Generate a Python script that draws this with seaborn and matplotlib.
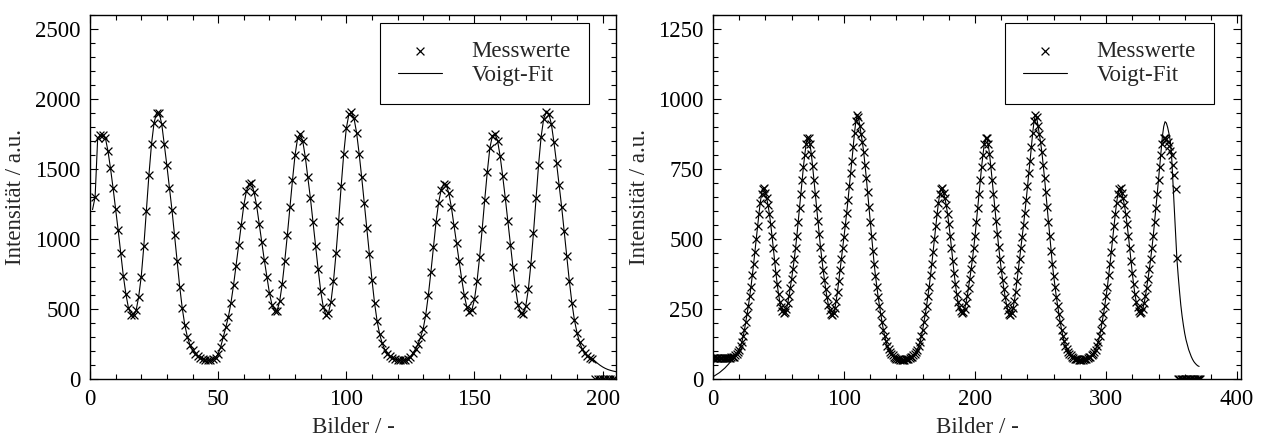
import numpy as np
import matplotlib
matplotlib.use("Agg")
import matplotlib.pyplot as plt
import seaborn as sns
from matplotlib.ticker import MultipleLocator

# ---------------- data ----------------
# left panel: measured intensity per frame, frames start at 2
left_meas_start = 2
left_meas = [
    1300, 1720, 1742, 1745, 1722, 1630, 1505, 1365, 1215, 1062,
    898, 738, 608, 508, 460, 455, 490, 588, 732, 948,
    1198, 1458, 1678, 1830, 1902, 1900, 1820, 1675, 1525, 1365,
    1205, 1025, 840, 660, 505, 385, 300, 245, 205, 180,
    162, 150, 142, 137, 134, 135, 140, 152, 180, 230,
    300, 370, 445, 545, 670, 810, 955, 1100, 1240, 1340,
    1390, 1398, 1335, 1240, 1110, 980, 850, 730, 615, 530,
    485, 488, 555, 680, 845, 1030, 1225, 1420, 1600, 1720,
    1752, 1700, 1585, 1440, 1290, 1120, 950, 785, 630, 515,
    460, 468, 550, 700, 900, 1130, 1380, 1610, 1790, 1890,
    1905, 1862, 1760, 1610, 1440, 1260, 1075, 890, 710, 545,
    415, 320, 255, 210, 180, 162, 150, 142, 137, 134,
    134, 137, 145, 160, 185, 215, 250, 300, 360, 460,
    600, 765, 945, 1120, 1260, 1350, 1395, 1388, 1325, 1225,
    1100, 970, 840, 715, 600, 515, 478, 495, 570, 700,
    870, 1070, 1280, 1480, 1650, 1738, 1750, 1702, 1592, 1450,
    1295, 1130, 960, 800, 650, 530, 468, 462, 520, 640,
    820, 1040, 1290, 1530, 1730, 1860, 1905, 1895, 1820, 1690,
    1545, 1385, 1230, 1055, 875, 700, 545, 420, 330, 262,
    215, 185, 165, 152, 145, 0, 0, 0, 0, 0,
    0, 0, 0, 0,
]

# left panel: Voigt fit, frames start at 1
left_fit_start = 1
left_fit = [
    1210,
    1300, 1720, 1742, 1745, 1722, 1630, 1505, 1365, 1215, 1062,
    898, 738, 608, 508, 460, 455, 490, 588, 732, 948,
    1198, 1458, 1678, 1830, 1902, 1900, 1820, 1675, 1525, 1365,
    1205, 1025, 840, 660, 505, 385, 300, 245, 205, 180,
    162, 150, 142, 137, 134, 135, 140, 152, 180, 230,
    300, 370, 445, 545, 670, 810, 955, 1100, 1240, 1340,
    1390, 1398, 1335, 1240, 1110, 980, 850, 730, 615, 530,
    485, 488, 555, 680, 845, 1030, 1225, 1420, 1600, 1720,
    1752, 1700, 1585, 1440, 1290, 1120, 950, 785, 630, 515,
    460, 468, 550, 700, 900, 1130, 1380, 1610, 1790, 1890,
    1905, 1862, 1760, 1610, 1440, 1260, 1075, 890, 710, 545,
    415, 320, 255, 210, 180, 162, 150, 142, 137, 134,
    134, 137, 145, 160, 185, 215, 250, 300, 360, 460,
    600, 765, 945, 1120, 1260, 1350, 1395, 1388, 1325, 1225,
    1100, 970, 840, 715, 600, 515, 478, 495, 570, 700,
    870, 1070, 1280, 1480, 1650, 1738, 1750, 1702, 1592, 1450,
    1295, 1130, 960, 800, 650, 530, 468, 462, 520, 640,
    820, 1040, 1290, 1530, 1730, 1860, 1905, 1895, 1820, 1690,
    1545, 1385, 1230, 1055, 875, 700, 545, 420, 330, 262,
    215, 185, 165, 152, 145, 128, 112, 98, 86, 76,
    68, 62, 57, 53, 50,
]

# right panel: measured intensity per frame, frames start at 0
right_meas_start = 0
right_meas = [
    75, 75, 75, 74, 74, 74, 74, 74, 74, 74,
    75, 75, 76, 76, 77, 78, 80, 85, 90, 97,
    105, 117, 132, 152, 176, 203, 232, 262, 295, 330,
    370, 412, 455, 500, 545, 588, 628, 660, 680, 682,
    665, 645, 620, 590, 553, 512, 467, 421, 378, 338,
    303, 275, 256, 242, 236, 238, 250, 270, 296, 326,
    358, 392, 428, 468, 512, 560, 610, 660, 710, 758,
    800, 838, 860, 862, 838, 804, 760, 712, 662, 612,
    565, 518, 472, 430, 390, 355, 322, 292, 266, 246,
    233, 229, 235, 252, 280, 312, 350, 390, 430, 468,
    508, 550, 594, 638, 688, 735, 780, 830, 880, 920,
    943, 935, 905, 875, 845, 810, 765, 718, 668, 614,
    562, 510, 458, 410, 368, 330, 294, 262, 232, 204,
    176, 154, 135, 118, 106, 97, 90, 84, 80, 76,
    73, 71, 70, 69,
    68, 68, 69, 70, 71, 72, 74, 77, 80, 85,
    90, 97, 105, 117, 132, 152, 176, 203, 232, 262,
    295, 330, 370, 412, 455, 500, 545, 588, 628, 660,
    680, 682, 665, 645, 620, 590, 553, 512, 467, 421,
    378, 338, 303, 275, 256, 242, 236, 238, 250, 270,
    296, 326, 358, 392, 428, 468, 512, 560, 610, 660,
    710, 758, 800, 838, 860, 862, 838, 804, 760, 712,
    662, 612, 565, 518, 472, 430, 390, 355, 322, 292,
    266, 246, 233, 229, 235, 252, 280, 312, 350, 390,
    430, 468, 508, 550, 594, 638, 688, 735, 780, 830,
    880, 920, 943, 935, 905, 875, 845, 810, 765, 718,
    668, 614, 562, 510, 458, 410, 368, 330, 294, 262,
    232, 204, 176, 154, 135, 118, 106, 97, 90, 84,
    80, 76, 73, 71, 70, 69, 68,
    68, 69, 70, 71, 72, 74, 77, 80, 85, 90,
    97, 105, 117, 132, 152, 176, 203, 232, 262, 295,
    330, 370, 412, 455, 500, 545, 588, 628, 660, 680,
    682, 665, 645, 620, 590, 553, 512, 467, 421, 378,
    338, 303, 275, 256, 242, 236, 238, 250, 270, 296,
    326, 358, 392, 428, 468, 512, 560, 610, 660, 710,
    758, 800, 838, 860, 862,
    856, 848, 832, 815, 800, 765, 728, 680,
    433,
    0, 0, 0, 0, 0, 0, 0, 0, 0, 0,
    0, 0, 0, 0, 0, 0, 0, 0,
]

# right panel: Voigt fit, frames start at 0
right_fit_start = 0
right_fit = [
    8, 11, 14, 17, 20, 23, 27, 31, 35, 39,
    44, 49, 54, 60, 66, 72, 78, 85, 92, 99,
    106, 117, 132, 152, 176, 203, 232, 262, 295, 330,
    370, 412, 455, 500, 545, 588, 628, 660, 680, 682,
    665, 645, 620, 590, 553, 512, 467, 421, 378, 338,
    303, 275, 256, 242, 236, 238, 250, 270, 296, 326,
    358, 392, 428, 468, 512, 560, 610, 660, 710, 758,
    800, 838, 860, 862, 838, 804, 760, 712, 662, 612,
    565, 518, 472, 430, 390, 355, 322, 292, 266, 246,
    233, 229, 235, 252, 280, 312, 350, 390, 430, 468,
    508, 550, 594, 638, 688, 735, 780, 830, 880, 920,
    943, 935, 905, 875, 845, 810, 765, 718, 668, 614,
    562, 510, 458, 410, 368, 330, 294, 262, 232, 204,
    176, 154, 135, 118, 106, 97, 90, 84, 80, 76,
    73, 71, 70, 69,
    68, 68, 69, 70, 71, 72, 74, 77, 80, 85,
    90, 97, 105, 117, 132, 152, 176, 203, 232, 262,
    295, 330, 370, 412, 455, 500, 545, 588, 628, 660,
    680, 682, 665, 645, 620, 590, 553, 512, 467, 421,
    378, 338, 303, 275, 256, 242, 236, 238, 250, 270,
    296, 326, 358, 392, 428, 468, 512, 560, 610, 660,
    710, 758, 800, 838, 860, 862, 838, 804, 760, 712,
    662, 612, 565, 518, 472, 430, 390, 355, 322, 292,
    266, 246, 233, 229, 235, 252, 280, 312, 350, 390,
    430, 468, 508, 550, 594, 638, 688, 735, 780, 830,
    880, 920, 943, 935, 905, 875, 845, 810, 765, 718,
    668, 614, 562, 510, 458, 410, 368, 330, 294, 262,
    232, 204, 176, 154, 135, 118, 106, 97, 90, 84,
    80, 76, 73, 71, 70, 69, 68,
    68, 69, 70, 71, 72, 74, 77, 80, 85, 90,
    97, 105, 117, 132, 152, 176, 203, 232, 262, 295,
    330, 370, 412, 455, 500, 545, 588, 628, 660, 680,
    682, 665, 645, 620, 590, 553, 512, 467, 421, 378,
    338, 303, 275, 256, 242, 236, 238, 250, 270, 296,
    326, 358, 392, 428, 468, 512, 560, 610, 660, 712,
    765, 820, 868, 902, 919, 914, 898, 876, 850, 795,
    705, 612, 522, 432, 370, 315, 265, 225, 192, 163,
    140, 122, 105, 92, 80, 70, 62, 56, 51, 47,
    45,
]

x_label = "Bilder / -"
y_label = "Intensität / a.u."
legend_labels = ["Messwerte", "Voigt-Fit"]

# ---------------- styling ----------------
sns.set_theme(style="white")
plt.rcParams["font.family"] = ["Liberation Serif", "DejaVu Serif"]
FS = 16.5

fig = plt.figure(figsize=(12.62, 4.38), dpi=100)
ax1 = fig.add_axes([0.0713, 0.1347, 0.4168, 0.8311])
ax2 = fig.add_axes([0.5650, 0.1347, 0.4184, 0.8311])


def draw(ax, mx, my, fx, fy):
    sns.scatterplot(x=mx, y=my, ax=ax, marker="x", s=32, color="black",
                    linewidth=0.9, label=legend_labels[0], zorder=3)
    sns.lineplot(x=fx, y=fy, ax=ax, color="black", linewidth=0.8,
                 label=legend_labels[1], sort=False, zorder=2)


draw(ax1,
     np.arange(left_meas_start, left_meas_start + len(left_meas)), left_meas,
     np.arange(left_fit_start, left_fit_start + len(left_fit)), left_fit)
draw(ax2,
     np.arange(right_meas_start, right_meas_start + len(right_meas)), right_meas,
     np.arange(right_fit_start, right_fit_start + len(right_fit)), right_fit)

ax1.set_xlim(0, 205.2)
ax1.set_ylim(0, 2600)
ax1.xaxis.set_major_locator(MultipleLocator(50))
ax1.xaxis.set_minor_locator(MultipleLocator(10))
ax1.yaxis.set_major_locator(MultipleLocator(500))
ax1.yaxis.set_minor_locator(MultipleLocator(100))

ax2.set_xlim(0, 403)
ax2.set_ylim(0, 1300)
ax2.xaxis.set_major_locator(MultipleLocator(100))
ax2.xaxis.set_minor_locator(MultipleLocator(20))
ax2.yaxis.set_major_locator(MultipleLocator(250))
ax2.yaxis.set_minor_locator(MultipleLocator(50))

for ax in (ax1, ax2):
    for sp in ax.spines.values():
        sp.set_visible(True)
        sp.set_color("black")
        sp.set_linewidth(1.0)
    ax.tick_params(which="both", direction="in", top=True, right=True,
                   bottom=True, left=True, colors="black", width=0.8)
    ax.tick_params(which="major", length=6, labelsize=FS, pad=7)
    ax.tick_params(which="minor", length=3.5)
    ax.set_xlabel(x_label, fontsize=FS, labelpad=5)
    ax.set_ylabel(y_label, fontsize=FS, labelpad=6)
    handles, labels = ax.get_legend_handles_labels()
    leg = ax.legend(handles, labels, loc="upper right",
                    bbox_to_anchor=(0.9487, 0.978), borderaxespad=0,
                    frameon=True, fancybox=False, shadow=False,
                    edgecolor="black", framealpha=1, fontsize=FS,
                    handlelength=1.9, handletextpad=1.3, borderpad=0.8,
                    labelspacing=0.1)
    leg.get_frame().set_linewidth(0.8)

fig.savefig("out.png", dpi=100, facecolor="white")
